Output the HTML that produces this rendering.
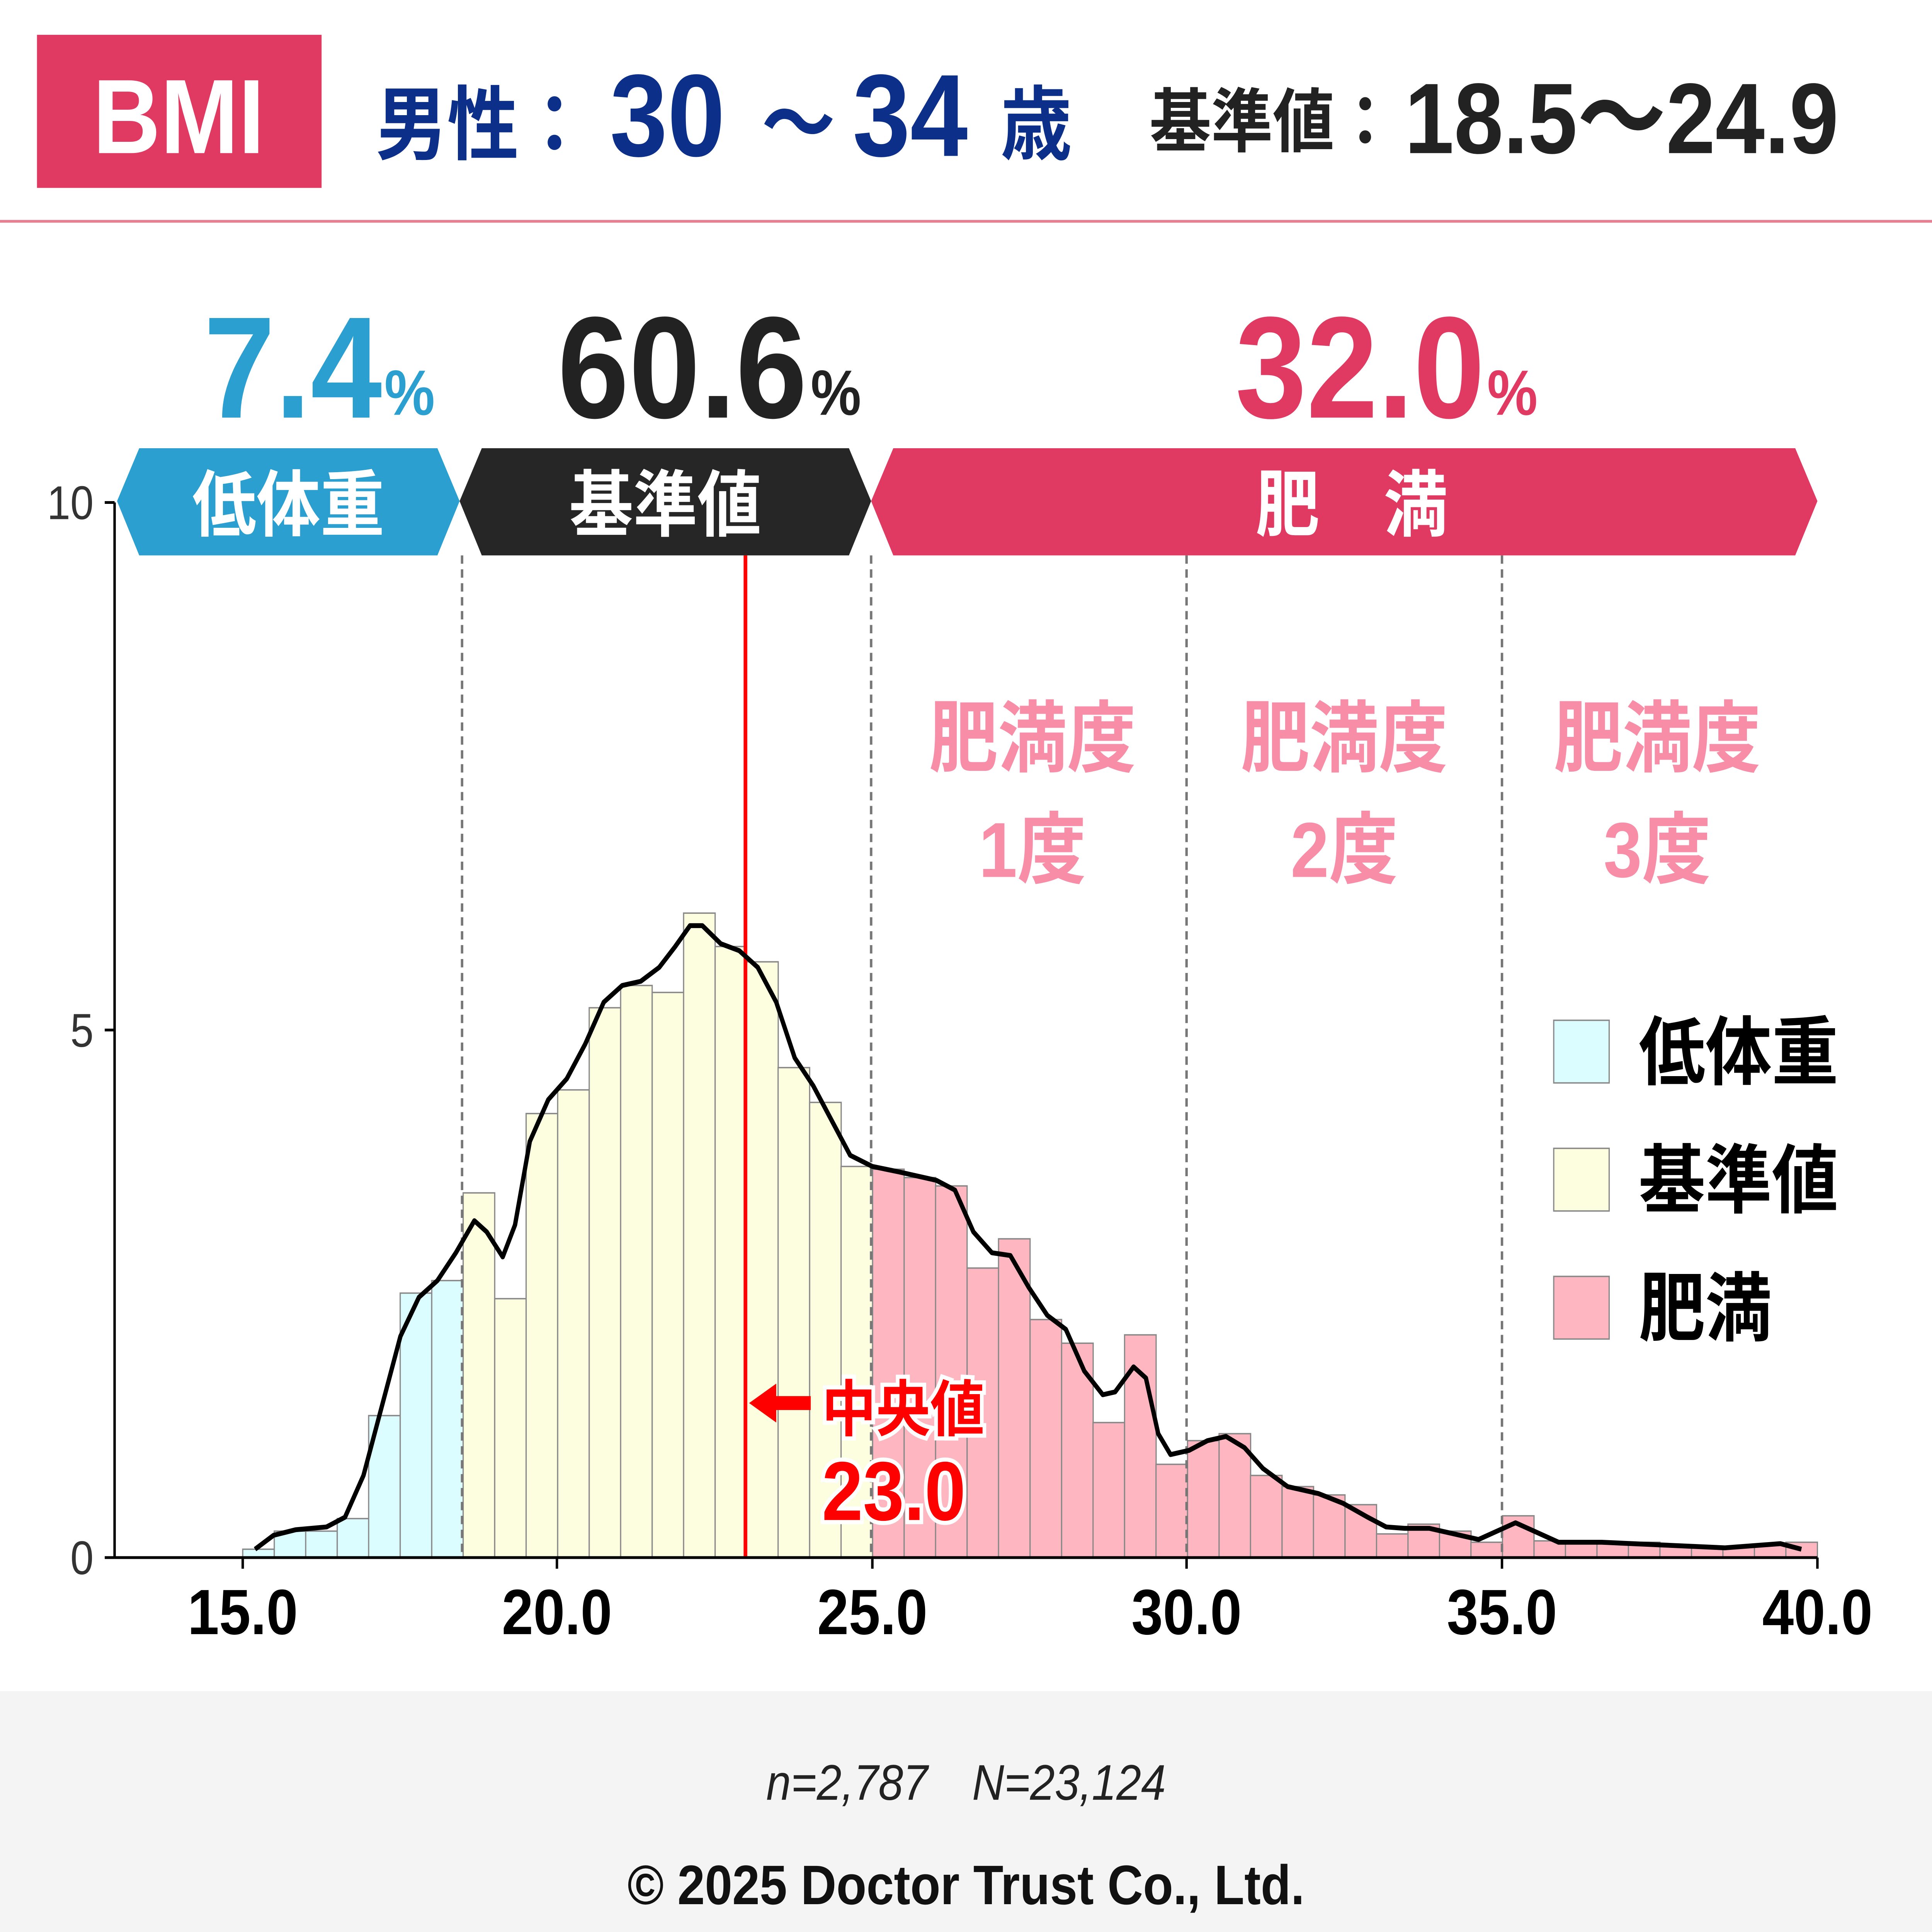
<!DOCTYPE html>
<html><head><meta charset="utf-8"><style>html,body{margin:0;padding:0;background:#fff;width:100%;height:100%;overflow:hidden}svg{display:block;width:100vw;height:100vh}</style></head><body>
<svg xmlns="http://www.w3.org/2000/svg" viewBox="0 0 1568 1388" preserveAspectRatio="none" font-family="'Liberation Sans','Noto Sans CJK JP',sans-serif">
<rect width="1568" height="1388" fill="#fff"/>
<rect x="0" y="1215" width="1568" height="173" fill="#f4f4f4"/>
<rect x="30" y="25" width="231" height="110" fill="#e03a63"/>
<text x="145" y="110" font-size="76" font-weight="bold" fill="#fff" text-anchor="middle">BMI</text>
<text x="305" y="110" font-size="58" font-weight="bold" fill="#0c2f8a">男性：</text>
<text x="495" y="112" font-size="84" font-weight="bold" fill="#0c2f8a">30</text>
<text x="618" y="110" font-size="60" font-weight="bold" fill="#0c2f8a">～</text>
<text x="692" y="112" font-size="84" font-weight="bold" fill="#0c2f8a">34</text>
<text x="812" y="110" font-size="58" font-weight="bold" fill="#0c2f8a">歳</text>
<text x="933" y="105" font-size="50" font-weight="bold" fill="#222">基準値：</text>
<text x="1140" y="110" font-size="72" font-weight="bold" fill="#222">18.5～24.9</text>
<rect x="0" y="158" width="1568" height="2" fill="#e77f93"/>
<text x="310" y="300" font-size="104" font-weight="bold" fill="#2a9fd0" text-anchor="end">7.4</text>
<text x="312" y="298" font-size="46" font-weight="bold" fill="#2a9fd0">%</text>
<text x="655" y="300" font-size="104" font-weight="bold" fill="#222" text-anchor="end">60.6</text>
<text x="658" y="298" font-size="46" font-weight="bold" fill="#222">%</text>
<text x="1205" y="300" font-size="104" font-weight="bold" fill="#e03a63" text-anchor="end">32.0</text>
<text x="1207" y="298" font-size="46" font-weight="bold" fill="#e03a63">%</text>
<polygon points="95,360 113,322 355,322 373,360 355,399 113,399" fill="#2a9fd0"/>
<polygon points="373,360 391,322 689,322 707,360 689,399 391,399" fill="#262626"/>
<polygon points="707,360 725,322 1457,322 1475,360 1457,399 725,399" fill="#e03a63"/>
<text x="234" y="381" font-size="52" font-weight="bold" fill="#fff" text-anchor="middle">低体重</text>
<text x="540" y="381" font-size="52" font-weight="bold" fill="#fff" text-anchor="middle">基準値</text>
<text x="1097" y="381" font-size="52" font-weight="bold" fill="#fff" text-anchor="middle">肥　満</text>
<g font-size="56" font-weight="bold" fill="#f78da7" text-anchor="middle">
<text x="838" y="550">肥満度</text><text x="838" y="630">1度</text>
<text x="1091" y="550">肥満度</text><text x="1091" y="630">2度</text>
<text x="1345" y="550">肥満度</text><text x="1345" y="630">3度</text>
</g>
<g stroke="#888" stroke-width="1">
<rect x="197" y="1113" width="25.6" height="6" fill="#dcfdff"/>
<rect x="222.6" y="1100" width="25.6" height="19" fill="#dcfdff"/>
<rect x="248.1" y="1100" width="25.6" height="19" fill="#dcfdff"/>
<rect x="273.7" y="1091" width="25.6" height="28" fill="#dcfdff"/>
<rect x="299.2" y="1017" width="25.6" height="102" fill="#dcfdff"/>
<rect x="324.8" y="929" width="25.6" height="190" fill="#dcfdff"/>
<rect x="350.4" y="920" width="25.6" height="199" fill="#dcfdff"/>
<rect x="375.9" y="857" width="25.6" height="262" fill="#fdfde0"/>
<rect x="401.5" y="933" width="25.6" height="186" fill="#fdfde0"/>
<rect x="427" y="800" width="25.6" height="319" fill="#fdfde0"/>
<rect x="452.6" y="783" width="25.6" height="336" fill="#fdfde0"/>
<rect x="478.2" y="724" width="25.6" height="395" fill="#fdfde0"/>
<rect x="503.7" y="708" width="25.6" height="411" fill="#fdfde0"/>
<rect x="529.3" y="713" width="25.6" height="406" fill="#fdfde0"/>
<rect x="554.8" y="656" width="25.6" height="463" fill="#fdfde0"/>
<rect x="580.4" y="680" width="25.6" height="439" fill="#fdfde0"/>
<rect x="606" y="691" width="25.6" height="428" fill="#fdfde0"/>
<rect x="631.5" y="767" width="25.6" height="352" fill="#fdfde0"/>
<rect x="657.1" y="792" width="25.6" height="327" fill="#fdfde0"/>
<rect x="682.6" y="838" width="25.6" height="281" fill="#fdfde0"/>
<rect x="708.2" y="840" width="25.6" height="279" fill="#feb6c1"/>
<rect x="733.8" y="846" width="25.6" height="273" fill="#feb6c1"/>
<rect x="759.3" y="852" width="25.6" height="267" fill="#feb6c1"/>
<rect x="784.9" y="911" width="25.6" height="208" fill="#feb6c1"/>
<rect x="810.4" y="890" width="25.6" height="229" fill="#feb6c1"/>
<rect x="836" y="948" width="25.6" height="171" fill="#feb6c1"/>
<rect x="861.6" y="965" width="25.6" height="154" fill="#feb6c1"/>
<rect x="887.1" y="1022" width="25.6" height="97" fill="#feb6c1"/>
<rect x="912.7" y="959" width="25.6" height="160" fill="#feb6c1"/>
<rect x="938.2" y="1052" width="25.6" height="67" fill="#feb6c1"/>
<rect x="963.8" y="1035" width="25.6" height="84" fill="#feb6c1"/>
<rect x="989.4" y="1030" width="25.6" height="89" fill="#feb6c1"/>
<rect x="1014.9" y="1060" width="25.6" height="59" fill="#feb6c1"/>
<rect x="1040.5" y="1068" width="25.6" height="51" fill="#feb6c1"/>
<rect x="1066" y="1074" width="25.6" height="45" fill="#feb6c1"/>
<rect x="1091.6" y="1081" width="25.6" height="38" fill="#feb6c1"/>
<rect x="1117.2" y="1102" width="25.6" height="17" fill="#feb6c1"/>
<rect x="1142.7" y="1095" width="25.6" height="24" fill="#feb6c1"/>
<rect x="1168.3" y="1100" width="25.6" height="19" fill="#feb6c1"/>
<rect x="1193.8" y="1108" width="25.6" height="11" fill="#feb6c1"/>
<rect x="1219.4" y="1089" width="25.6" height="30" fill="#feb6c1"/>
<rect x="1245" y="1107" width="25.6" height="12" fill="#feb6c1"/>
<rect x="1270.5" y="1108" width="25.6" height="11" fill="#feb6c1"/>
<rect x="1296.1" y="1109" width="25.6" height="10" fill="#feb6c1"/>
<rect x="1321.6" y="1108" width="25.6" height="11" fill="#feb6c1"/>
<rect x="1347.2" y="1110" width="25.6" height="9" fill="#feb6c1"/>
<rect x="1372.8" y="1111" width="25.6" height="8" fill="#feb6c1"/>
<rect x="1398.3" y="1111" width="25.6" height="8" fill="#feb6c1"/>
<rect x="1423.9" y="1110" width="25.6" height="9" fill="#feb6c1"/>
<rect x="1449.4" y="1108" width="25.6" height="11" fill="#feb6c1"/>
</g>
<g stroke="#777" stroke-width="2" stroke-dasharray="6,4">
<line x1="375" y1="399" x2="375" y2="1119"/><line x1="707" y1="399" x2="707" y2="1119"/>
<line x1="963" y1="399" x2="963" y2="1119"/><line x1="1219" y1="399" x2="1219" y2="1119"/>
</g>
<line x1="605" y1="399" x2="605" y2="1119" stroke="#f00" stroke-width="3"/>
<polyline fill="none" stroke="#000" stroke-width="3.5" stroke-linejoin="round" points="207,1113 222,1103 240,1099 265,1097 280,1090 295,1060 310,1010 325,960 340,932 355,920 370,900 385,877 395,885 408,903 418,880 430,820 445,790 460,775 475,750 490,720 505,708 520,705 535,695 548,680 560,665 570,665 585,678 600,683 615,695 630,720 645,760 660,780 675,805 690,830 708,838 730,842 760,848 775,855 790,885 805,900 820,902 835,925 850,945 865,955 880,985 895,1002 905,1000 920,982 930,990 940,1030 950,1045 965,1042 980,1035 995,1032 1010,1040 1025,1055 1045,1068 1070,1073 1090,1080 1110,1090 1125,1097 1140,1098 1160,1098 1180,1102 1200,1106 1215,1100 1230,1094 1245,1100 1265,1108 1300,1108 1350,1110 1400,1112 1445,1109 1462,1113"/>
<line x1="93" y1="361" x2="93" y2="1119" stroke="#000" stroke-width="2"/>
<line x1="93" y1="1119" x2="1475" y2="1119" stroke="#000" stroke-width="2"/>
<g stroke="#000" stroke-width="2"><line x1="85" y1="361" x2="93" y2="361"/><line x1="85" y1="740" x2="93" y2="740"/><line x1="85" y1="1119" x2="93" y2="1119"/>
<line x1="197" y1="1119" x2="197" y2="1127"/><line x1="452" y1="1119" x2="452" y2="1127"/><line x1="708" y1="1119" x2="708" y2="1127"/><line x1="963" y1="1119" x2="963" y2="1127"/><line x1="1219" y1="1119" x2="1219" y2="1127"/><line x1="1475" y1="1119" x2="1475" y2="1127"/></g>
<g font-size="34" fill="#333" text-anchor="end"><text x="76" y="373">10</text><text x="76" y="752">5</text><text x="76" y="1131">0</text></g>
<g font-size="46" font-weight="bold" fill="#000" text-anchor="middle"><text x="197" y="1174">15.0</text><text x="452" y="1174">20.0</text><text x="708" y="1174">25.0</text><text x="963" y="1174">30.0</text><text x="1219" y="1174">35.0</text><text x="1475" y="1174">40.0</text></g>
<polygon points="608,1008 630,994 630,1003 658,1003 658,1013 630,1013 630,1022" fill="#f00"/>
<text x="667" y="1028" font-size="44" font-weight="bold" fill="#f00" stroke="#fff" stroke-width="6" paint-order="stroke">中央値</text>
<text x="667" y="1092" font-size="60" font-weight="bold" fill="#f00" stroke="#fff" stroke-width="6" paint-order="stroke">23.0</text>
<g stroke="#888" stroke-width="1"><rect x="1261" y="733" width="45" height="45" fill="#dcfdff"/><rect x="1261" y="825" width="45" height="45" fill="#fdfde0"/><rect x="1261" y="917" width="45" height="45" fill="#feb6c1"/></g>
<g font-size="54" font-weight="bold" fill="#000"><text x="1330" y="775">低体重</text><text x="1330" y="867">基準値</text><text x="1330" y="959">肥満</text></g>
<text x="784" y="1293" font-size="36" font-style="italic" fill="#222" text-anchor="middle">n=2,787　N=23,124</text>
<text x="784" y="1368" font-size="40" font-weight="bold" fill="#111" text-anchor="middle">© 2025 Doctor Trust Co., Ltd.</text>
</svg>
</body></html>
